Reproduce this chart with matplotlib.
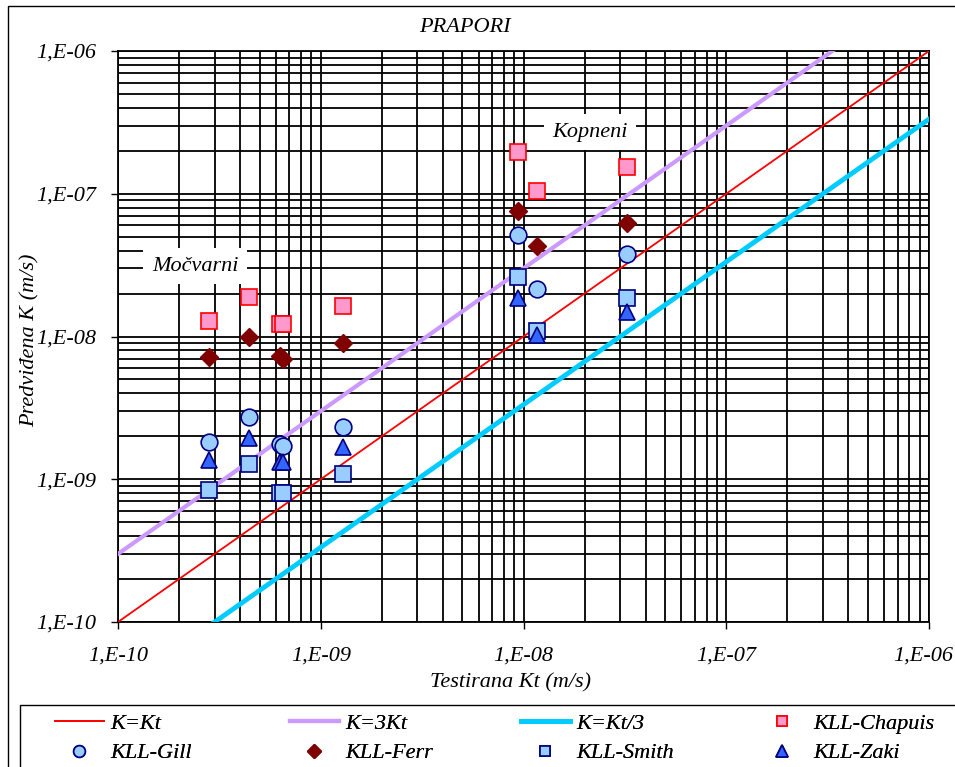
import numpy as np
import matplotlib
matplotlib.use('Agg')
import matplotlib.pyplot as plt
import matplotlib.transforms as mtransforms
from matplotlib.ticker import LogLocator, FuncFormatter, NullFormatter
from matplotlib.patches import Rectangle

plt.rcParams['font.family'] = ['Liberation Serif', 'DejaVu Serif']
plt.rcParams['font.style'] = 'italic'
plt.rcParams['font.size'] = 16

# testirana Kt (m/s) i predviđene vrijednosti K (m/s)
kt = [2.80e-10, 4.41e-10, 6.27e-10, 6.53e-10, 1.29e-9, 9.42e-9, 1.16e-8, 3.25e-8]
k_chapuis = [1.29e-8, 1.90e-8, 1.22e-8, 1.22e-8, 1.64e-8, 1.95e-7, 1.05e-7, 1.55e-7]
k_ferr = [7.18e-9, 9.97e-9, 7.30e-9, 6.96e-9, 8.96e-9, 7.61e-8, 4.33e-8, 6.21e-8]
k_gill = [1.82e-9, 2.74e-9, 1.77e-9, 1.72e-9, 2.33e-9, 5.14e-8, 2.14e-8, 3.77e-8]
k_smith = [8.41e-10, 1.28e-9, 8.05e-10, 8.05e-10, 1.09e-9, 2.62e-8, 1.10e-8, 1.85e-8]
k_zaki = [1.36e-9, 1.95e-9, 1.33e-9, 1.33e-9, 1.69e-9, 1.85e-8, 1.03e-8, 1.49e-8]

line_x = np.array([1e-10, 1e-6])

W, H = 955, 767
fig = plt.figure(figsize=(W/100, H/100), dpi=100)
ax = fig.add_axes([118/W, 1-622/H, 811/W, 571/H])

# okvir cijelog grafikona i okvir legende
fig.patches.append(Rectangle((8/W, -0.1), 1.2, 1.1 - 6/H, transform=fig.transFigure,
                             fill=False, edgecolor='black', lw=1.0))
fig.patches.append(Rectangle((20/W, -0.1), 1.2, 1.1 - 705/H, transform=fig.transFigure,
                             fill=False, edgecolor='black', lw=1.0))

ax.plot(line_x, line_x, color='#FF0000', lw=1.3, label='K=Kt', zorder=3)
ax.plot(line_x, 3*line_x, color='#CC99FF', lw=3.0, label='K=3Kt', zorder=3)
ax.plot(line_x, line_x/3, color='#00CCFF', lw=3.5, label='K=Kt/3', zorder=3)

ax.plot(kt, k_chapuis, ls='none', marker='s', ms=11, mfc='#FF99CC', mec='#FF0000', mew=1.2,
        label='KLL-Chapuis', zorder=4)
ax.plot(kt, k_gill, ls='none', marker='o', ms=12, mfc='#99CCFF', mec='#000080', mew=1.2,
        label='KLL-Gill', zorder=4)
ax.plot(kt, k_ferr, ls='none', marker='D', ms=9.5, mfc='#800000', mec='#800000', mew=1.0,
        label='KLL-Ferr', zorder=4)
ax.plot(kt, k_smith, ls='none', marker='s', ms=11, mfc='#99CCFF', mec='#000080', mew=1.2,
        label='KLL-Smith', zorder=4)
ax.plot(kt, k_zaki, ls='none', marker='^', ms=12, mfc='#3366FF', mec='#000080', mew=1.2,
        label='KLL-Zaki', zorder=4)

ax.set_xscale('log')
ax.set_yscale('log')
ax.set_xlim(1e-10, 1e-6)
ax.set_ylim(1e-10, 1e-6)

fmt = FuncFormatter(lambda v, p: '1,E-%02d' % -round(np.log10(v)))
for axis in (ax.xaxis, ax.yaxis):
    axis.set_major_locator(LogLocator(base=10, numticks=10))
    axis.set_minor_locator(LogLocator(base=10, subs=np.arange(2, 10), numticks=10))
    axis.set_major_formatter(fmt)
    axis.set_minor_formatter(NullFormatter())

ax.tick_params(which='major', direction='out', length=5, width=1, labelsize=16)
ax.tick_params(axis='x', which='major', pad=13)
ax.tick_params(axis='y', which='major', pad=11)
ax.tick_params(which='minor', length=0)
ax.grid(True, which='both', color='black', lw=1.3)
ax.set_axisbelow(True)
for s in ax.spines.values():
    s.set_linewidth(1.3)

# zadnju oznaku na x osi malo pomakni ulijevo da ne izađe iz slike
fig.canvas.draw()
last = [t for t in ax.get_xticklabels() if t.get_text() == '1,E-06']
for t in last:
    t.set_transform(t.get_transform() + mtransforms.ScaledTranslation(-6/100, 0, fig.dpi_scale_trans))

ax.text(0.582, 0.858, 'Kopneni', transform=ax.transAxes, ha='center', va='center',
        bbox=dict(facecolor='white', edgecolor='none', pad=6), zorder=5)
ax.text(0.095, 0.623, 'Močvarni', transform=ax.transAxes, ha='center', va='center',
        bbox=dict(facecolor='white', edgecolor='none', pad=6), zorder=5)

fig.text(465/W, 1-28/H, 'PRAPORI', ha='center', va='center')
fig.text(510/W, 1-683/H, 'Testirana Kt (m/s)', ha='center', va='center')
fig.text(30/W, 1-340/H, 'Predviđena K (m/s)', ha='center', va='center', rotation=90)

# legenda: četiri stupca s po dva unosa
h, l = ax.get_legend_handles_labels()
hd = dict(zip(l, h))
columns = [['K=Kt', 'KLL-Gill'], ['K=3Kt', 'KLL-Ferr'],
           ['K=Kt/3', 'KLL-Smith'], ['KLL-Chapuis', 'KLL-Zaki']]
col_x = [55, 290, 521, 758]
for names, x0 in zip(columns, col_x):
    leg = fig.legend([hd[n] for n in names], names, loc='upper left',
                     bbox_to_anchor=(x0/W, 1-713/H), frameon=False, fontsize=16,
                     handlelength=2.2, handletextpad=0.3, labelspacing=0.42,
                     borderpad=0, borderaxespad=0, markerscale=0.7)
    fig.add_artist(leg)

fig.savefig('out.png', dpi=100)
